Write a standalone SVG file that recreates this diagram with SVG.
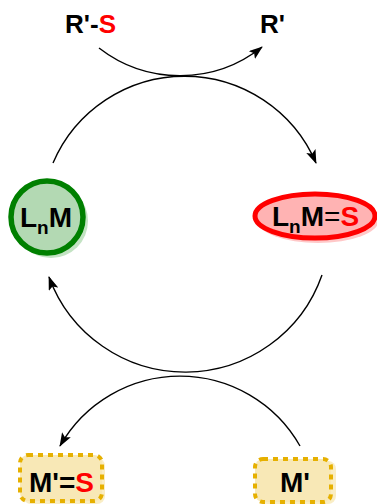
<svg xmlns="http://www.w3.org/2000/svg" width="377" height="504" viewBox="0 0 377 504">
<style>
text{font-family:"Liberation Sans",Arial,sans-serif;font-weight:bold;font-size:26px;fill:#000}
.big{font-size:28px}
.red{fill:#ff0000}
.arc{fill:none;stroke:#000;stroke-width:1.4}
.box{fill:#f8e8b6;stroke:#e6b000;stroke-width:4;stroke-dasharray:5 5}
.boxsh{fill:#f8e8b6;opacity:0.8}
</style>
<defs>
<marker id="ah" markerWidth="14" markerHeight="10" refX="13" refY="5" orient="auto" markerUnits="userSpaceOnUse">
<path d="M0,0 L14,5 L0,10 L3,5 z" fill="#000"/>
</marker>
</defs>
<rect width="377" height="504" fill="#fff"/>
<g id="connectors">
<path class="arc" d="M99,48 A132,132 0 0 0 262,47" marker-end="url(#ah)"/>
<path class="arc" d="M53,163 A143,143 0 0 1 316,163" marker-end="url(#ah)"/>
<path class="arc" d="M322,275 A145,145 0 0 1 49,277" marker-end="url(#ah)"/>
<path class="arc" d="M300,446 A138,138 0 0 0 60,446" marker-end="url(#ah)"/>
</g>
<g id="RS">
<text x="65" y="33">R'-<tspan class="red">S</tspan></text>
</g>
<g id="R">
<text x="260" y="33">R'</text>
</g>
<g id="LnM">
<circle cx="51" cy="221" r="37" fill="#c3e3c3"/>
<circle cx="47" cy="217" r="36" fill="#b3d9b3" stroke="#008000" stroke-width="5.5"/>
<text class="big" x="20" y="227">L<tspan font-size="19" dy="7">n</tspan><tspan dy="-7">M</tspan></text>
</g>
<g id="LnMS">
<ellipse cx="318" cy="220" rx="61" ry="23" fill="#ffc8c8"/>
<ellipse cx="315" cy="216" rx="60" ry="22" fill="#ffb3b3" stroke="#ff0000" stroke-width="5"/>
<text class="big" x="272" y="226">L<tspan font-size="19" dy="7">n</tspan><tspan dy="-7">M</tspan><tspan font-weight="normal">=</tspan><tspan class="red">S</tspan></text>
</g>
<g id="MS">
<rect class="boxsh" x="23" y="458" width="82" height="46" rx="8"/>
<rect class="box" x="20" y="455" width="82" height="46" rx="8"/>
<text class="big" x="29" y="492">M'=<tspan class="red">S</tspan></text>
</g>
<g id="M">
<rect class="boxsh" x="259" y="461" width="77" height="43" rx="8"/>
<rect class="box" x="255" y="459" width="76" height="43" rx="8"/>
<text class="big" x="280" y="492">M'</text>
</g>
</svg>
